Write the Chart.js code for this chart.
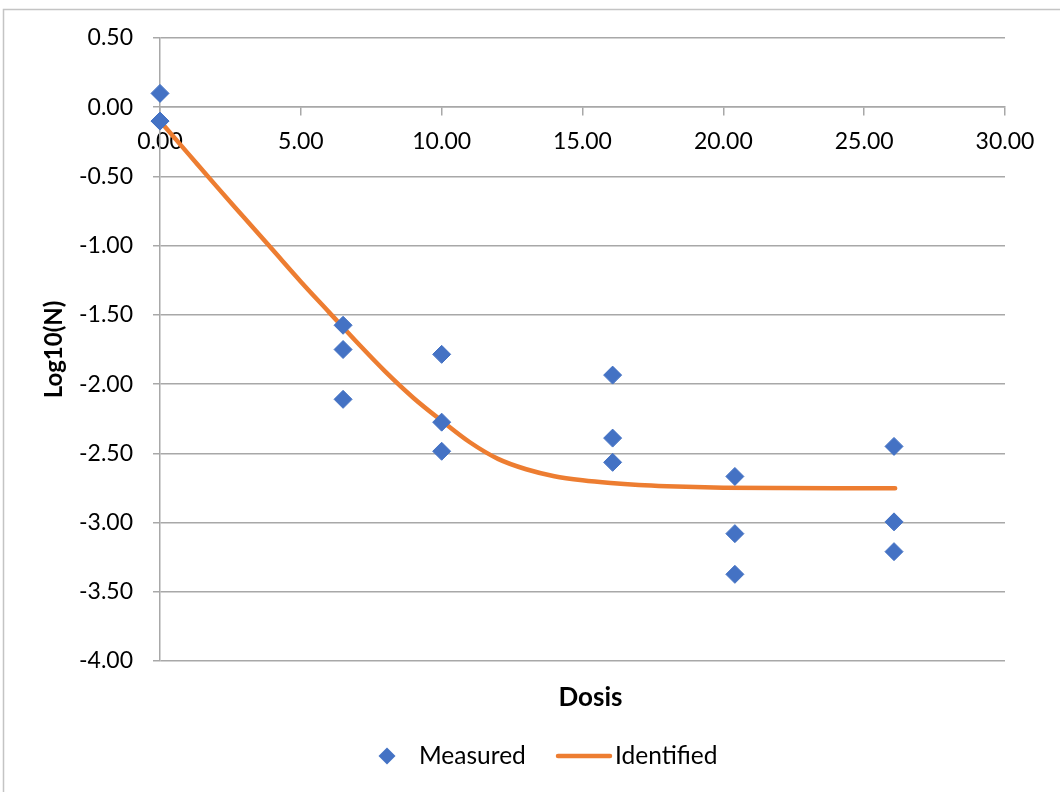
<!DOCTYPE html>
<html>
<head>
<meta charset="utf-8">
<title>Log10(N) vs Dosis</title>
<script src="https://cdn.jsdelivr.net/npm/chart.js@4.4.1/dist/chart.umd.min.js"></script>
<style>
  html, body { margin: 0; padding: 0; background: #ffffff; }
  #wrap { position: relative; width: 1060px; height: 792px; }
</style>
</head>
<body>
<div id="wrap"><canvas id="chart"></canvas></div>
<script>
// Measured survival points (dose, log10 N)
const measuredDose = [0, 0, 0, 6.5, 6.5, 6.5, 10, 10, 10, 16.07, 16.07, 16.07, 20.41, 20.41, 20.41, 26.06, 26.06, 26.06];
const measuredLog = [0.10, -0.10, -0.10, -1.575, -1.75, -2.11, -1.785, -2.275, -2.485, -1.935, -2.39, -2.565, -2.667, -3.08, -3.374, -2.45, -2.995, -3.21];

// Identified model curve
const modelDose = [0, 1, 2, 3, 4, 5, 6, 7, 8, 9, 10, 11, 12, 13, 14, 15, 16, 17, 18, 19, 20, 22, 24, 26.1];
const modelLog = [-0.10, -0.335, -0.57, -0.80, -1.03, -1.26, -1.48, -1.70, -1.91, -2.10, -2.265, -2.42, -2.54, -2.615, -2.665, -2.695, -2.715, -2.729, -2.738, -2.744, -2.748, -2.751, -2.752, -2.752];

// Axis ranges and tick steps
const xTicks = { min: 0, max: 30, step: 5 };
const yTicks = { min: -4, max: 0.5, step: 0.5 };

const seriesNames = ['Measured', 'Identified'];
const xTitle = 'Dosis';
const yTitle = 'Log10(N)';

const BLUE = '#4472C4';
const ORANGE = '#ED7D31';
const GRID = '#a8a8a8';
const FONT = 'Lato, "Open Sans", sans-serif';

const toPoints = (xs, ys) => xs.map((x, i) => ({ x: x, y: ys[i] }));

// Frame, x title and legend drawn around the plot area
const decorations = {
  id: 'decorations',
  beforeDraw(chart) {
    const ctx = chart.ctx;
    ctx.save();
    ctx.strokeStyle = '#c4c4c4';
    ctx.lineWidth = 1.5;
    ctx.strokeRect(3.5, 9.5, 1100, 850);
    ctx.restore();
  },
  afterDraw(chart) {
    const ctx = chart.ctx;
    const area = chart.chartArea;
    ctx.save();
    ctx.fillStyle = '#000';
    ctx.textBaseline = 'middle';
    ctx.textAlign = 'center';
    ctx.font = 'bold 26px ' + FONT;
    ctx.fillText(xTitle, (area.left + area.right) / 2 + 8, area.bottom + 37);

    // legend
    const ly = area.bottom + 95;
    const ds = chart.data.datasets;
    ctx.font = '24.5px ' + FONT;
    ctx.textAlign = 'left';
    // Measured: diamond marker
    const dx = 387, r = 8.5;
    ctx.fillStyle = ds[0].backgroundColor;
    ctx.beginPath();
    ctx.moveTo(dx, ly - r);
    ctx.lineTo(dx + r, ly);
    ctx.lineTo(dx, ly + r);
    ctx.lineTo(dx - r, ly);
    ctx.closePath();
    ctx.fill();
    ctx.fillStyle = '#000';
    ctx.fillText(ds[0].label, 419, ly);
    // Identified: line sample
    ctx.strokeStyle = ds[1].borderColor;
    ctx.lineWidth = ds[1].borderWidth;
    ctx.lineCap = 'round';
    ctx.beginPath();
    ctx.moveTo(558, ly);
    ctx.lineTo(610, ly);
    ctx.stroke();
    ctx.fillText(ds[1].label, 615, ly);
    ctx.restore();
  }
};

new Chart(document.getElementById('chart'), {
  type: 'scatter',
  data: {
    datasets: [
      {
        label: seriesNames[0],
        data: toPoints(measuredDose, measuredLog),
        pointStyle: 'rectRot',
        pointRadius: 9,
        pointHoverRadius: 9,
        backgroundColor: BLUE,
        borderColor: BLUE,
        borderWidth: 1,
        showLine: false,
        clip: false
      },
      {
        label: seriesNames[1],
        data: toPoints(modelDose, modelLog),
        showLine: true,
        pointRadius: 0,
        borderColor: ORANGE,
        backgroundColor: ORANGE,
        borderWidth: 4.5,
        borderCapStyle: 'round',
        borderJoinStyle: 'round',
        cubicInterpolationMode: 'monotone',
        clip: false
      }
    ]
  },
  options: {
    responsive: true,
    maintainAspectRatio: false,
    animation: false,
    layout: { padding: { left: 0, right: 55, top: 38, bottom: 131 } },
    plugins: {
      legend: { display: false },
      tooltip: { enabled: false }
    },
    scales: {
      x: {
        type: 'linear',
        position: { y: 0 },
        min: xTicks.min,
        max: xTicks.max,
        border: { display: true, color: GRID, width: 1.5 },
        grid: { drawOnChartArea: false, drawTicks: true, tickLength: 8, color: GRID, lineWidth: 1.5 },
        ticks: {
          stepSize: xTicks.step,
          padding: 13,
          color: '#000',
          font: { family: FONT, size: 23 },
          maxRotation: 0,
          callback: v => v.toFixed(2)
        },
        title: { display: false }
      },
      y: {
        type: 'linear',
        position: 'left',
        min: yTicks.min,
        max: yTicks.max,
        afterFit(scale) { scale.width = 160; },
        border: { display: true, color: GRID, width: 1.5 },
        grid: { color: GRID, lineWidth: 1.5, drawTicks: true, tickLength: 7 },
        ticks: {
          stepSize: yTicks.step,
          padding: 20,
          color: '#000',
          font: { family: FONT, size: 23 },
          callback: v => v.toFixed(2)
        },
        title: {
          display: true,
          text: yTitle,
          color: '#000',
          font: { family: FONT, size: 24, weight: 'bold' },
          padding: { top: 40, bottom: 0 }
        }
      }
    }
  },
  plugins: [decorations]
});
</script>
</body>
</html>
